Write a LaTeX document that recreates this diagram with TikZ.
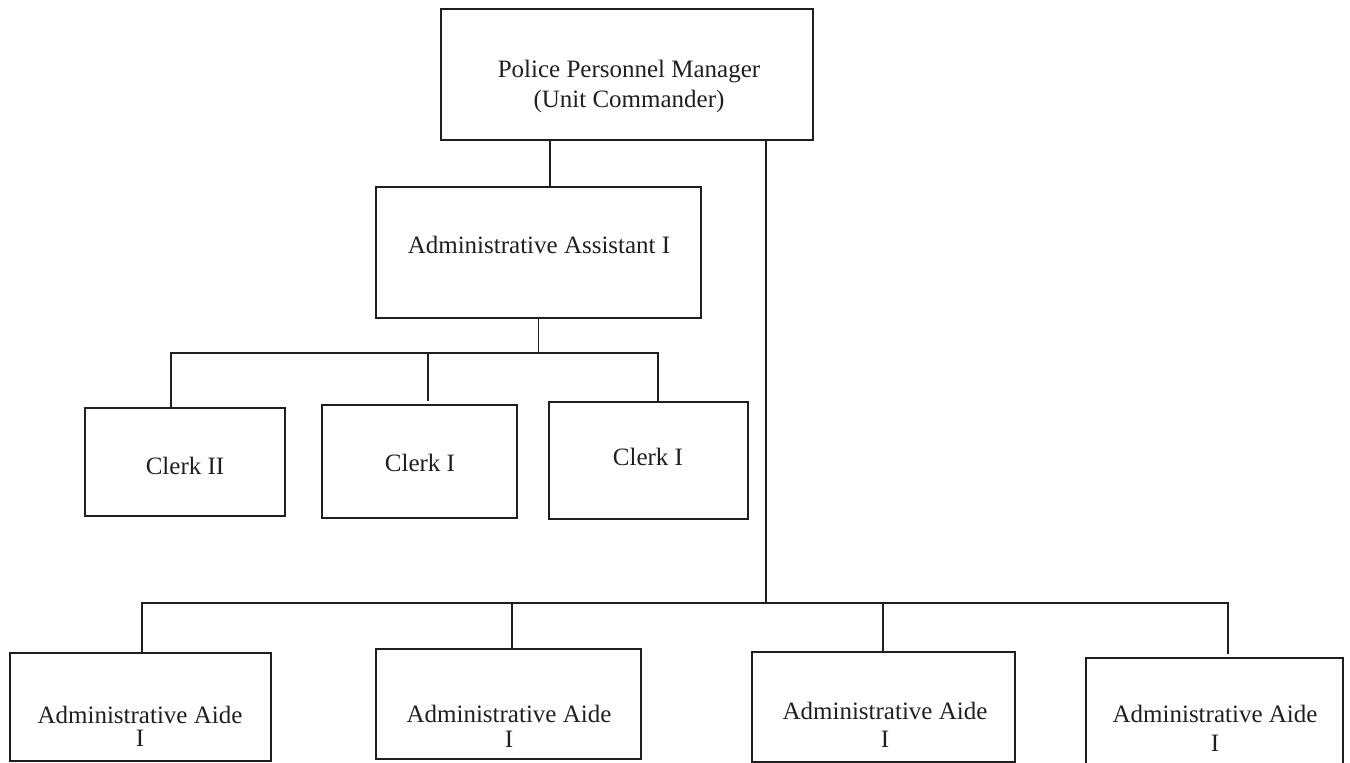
\documentclass[tikz,border=0pt]{standalone}
\usepackage{fontspec}
\setmainfont{Liberation Serif}
\begin{document}
\begin{tikzpicture}[x=1pt,y=-1pt,
  box/.style={draw=black!88, line width=1.5pt, rectangle, inner sep=0pt},
  lbl/.style={anchor=base, inner sep=0pt, font=\fontsize{25}{30}\selectfont, text=black!88},
  conn/.style={draw=black!88, line width=1.3pt}]
\useasboundingbox (0,0) rectangle (1350,763);
% boxes
\node[box, minimum width=372pt, minimum height=131pt] (top) at (627,74.5) {};
\node[box, minimum width=325pt, minimum height=131pt] (aa) at (538.5,252.5) {};
\node[box, minimum width=200pt, minimum height=108pt] (c1) at (185,462) {};
\node[box, minimum width=195pt, minimum height=113pt] (c2) at (419.5,461.5) {};
\node[box, minimum width=199pt, minimum height=117pt] (c3) at (648.5,460.5) {};
\node[box, minimum width=261pt, minimum height=108pt] (a1) at (140.5,707) {};
\node[box, minimum width=265pt, minimum height=110pt] (a2) at (508.5,704) {};
\node[box, minimum width=263pt, minimum height=110pt] (a3) at (883.5,707) {};
\node[box, minimum width=257pt, minimum height=112pt] (a4) at (1214.5,714) {};
% texts
\node[lbl] (t1) at (629,77) {Police Personnel Manager};
\node[lbl] (t2) at (629,107) {(Unit Commander)};
\node[lbl] (t3) at (539,253) {Administrative Assistant I};
\node[lbl] (t4) at (185,474) {Clerk II};
\node[lbl] (t5) at (420,471) {Clerk I};
\node[lbl] (t6) at (648,465) {Clerk I};
\node[lbl] (t7) at (140,723) {Administrative Aide};
\node[lbl] (t8) at (140,746) {I};
\node[lbl] (t9) at (509,722) {Administrative Aide};
\node[lbl] (t10) at (509,747) {I};
\node[lbl] (t11) at (885,719) {Administrative Aide};
\node[lbl] (t12) at (885,747) {I};
\node[lbl] (t13) at (1215,722) {Administrative Aide};
\node[lbl] (t14) at (1215,751) {I};
% junction coordinates
\coordinate (xa) at (550,0);
\coordinate (xr) at (766,0);
\coordinate (cbL) at (166,353);
\coordinate (cbR) at (658,353);
\coordinate (x1) at (171,0);
\coordinate (x2) at (428,0);
\coordinate (c2e) at (428,401);
\coordinate (abL) at (142,603);
\coordinate (abR) at (1228,603);
\coordinate (y1) at (512,0);
\coordinate (y2) at (883,0);
\coordinate (a4e) at (1228,654);
% connectors
\draw[conn] (xa |- top.south) -- (xa |- aa.north);
\draw[conn] (aa.south) -- (aa.south |- cbL);
\draw[conn] (x1 |- c1.north) -- (x1 |- cbL) -- (cbR) -- (cbR |- c3.north);
\draw[conn] (x2 |- cbL) -- (c2e);
\draw[conn] (xr |- top.south) -- (xr |- abL);
\draw[conn] (abL |- a1.north) -- (abL) -- (abR) -- (a4e);
\draw[conn] (y1 |- abL) -- (y1 |- a2.north);
\draw[conn] (y2 |- abL) -- (y2 |- a3.north);
\end{tikzpicture}
\end{document}
